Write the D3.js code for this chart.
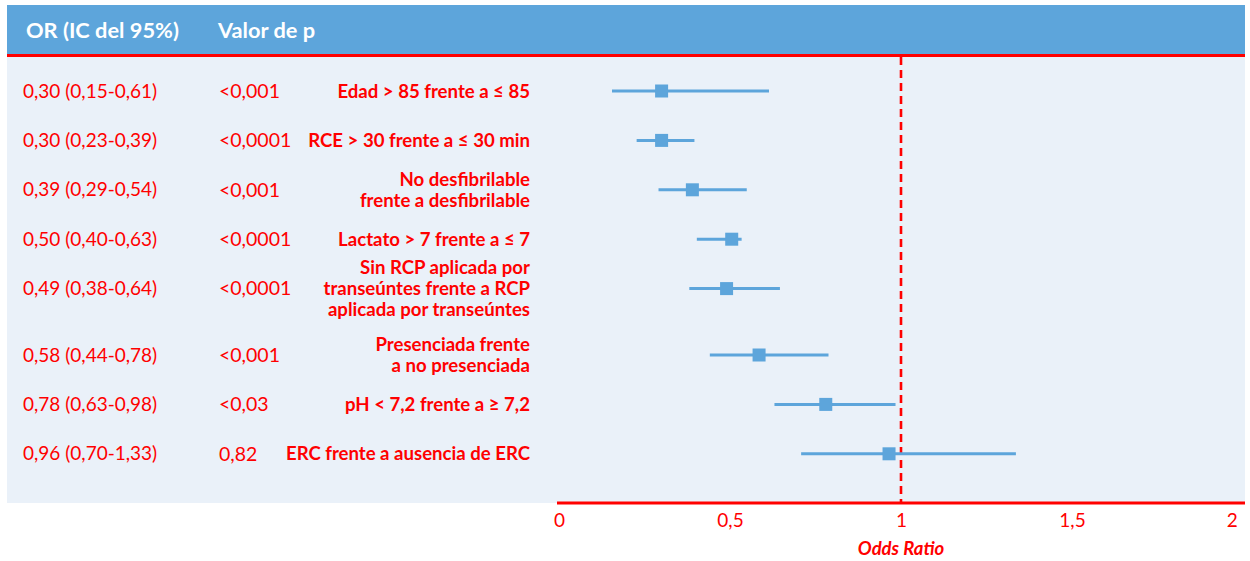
<!DOCTYPE html>
<html>
<head>
<meta charset="utf-8">
<script src="https://cdn.jsdelivr.net/npm/d3@7"></script>
<style>
  html, body { margin: 0; padding: 0; background: #ffffff; }
  svg { display: block; }
  text { font-family: Lato, "Noto Sans", sans-serif; }
</style>
</head>
<body>
<svg id="chart" width="1250" height="561"></svg>
<script>
// ---------------- DATA ----------------
const headerLabels = ["OR (IC del 95%)", "Valor de p"];
const orTexts = [
  "0,30 (0,15-0,61)", "0,30 (0,23-0,39)", "0,39 (0,29-0,54)", "0,50 (0,40-0,63)",
  "0,49 (0,38-0,64)", "0,58 (0,44-0,78)", "0,78 (0,63-0,98)", "0,96 (0,70-1,33)"
];
const pTexts = ["<0,001", "<0,0001", "<0,001", "<0,0001", "<0,0001", "<0,001", "<0,03", "0,82"];
const categories = [
  ["Edad > 85 frente a ≤ 85"],
  ["RCE > 30 frente a ≤ 30 min"],
  ["No desfibrilable", "frente a desfibrilable"],
  ["Lactato > 7 frente a ≤ 7"],
  ["Sin RCP aplicada por", "transeúntes frente a RCP", "aplicada por transeúntes"],
  ["Presenciada frente", "a no presenciada"],
  ["pH < 7,2 frente a ≥ 7,2"],
  ["ERC frente a ausencia de ERC"]
];
// values as drawn in the figure
const orValues = [0.30, 0.30, 0.39, 0.505, 0.49, 0.585, 0.78, 0.965];
const ciLow    = [0.155, 0.227, 0.291, 0.403, 0.381, 0.441, 0.63, 0.708];
const ciHigh   = [0.614, 0.396, 0.549, 0.534, 0.646, 0.788, 0.984, 1.336];
const xTicks = [0, 0.5, 1, 1.5, 2];
const refValue = 1;
const xTitle = "Odds Ratio";

// ---------------- STYLE / LAYOUT ----------------
const blue = "#5DA5DB", panel = "#EAF1F9", red = "#FF0000";
const left = 7, right = 1245;
const headerTop = 5, headerBottom = 55;
const panelTop = 57, panelBottom = 503;
const firstRowY = 91, rowStep = 49.4, tallExtra = 17;
const lineH = 21;

const svg = d3.select("#chart");

const x = d3.scaleLinear().domain([0, 2]).range([559, 1243]);

// row positions derived from label line counts
const rowY = [];
categories.forEach((c, i) => {
  if (i === 0) rowY.push(firstRowY);
  else rowY.push(rowY[i - 1] + rowStep + (categories[i - 1].length >= 3 ? tallExtra : 0));
});
const y = d3.scaleOrdinal().domain(d3.range(categories.length)).range(rowY);

// panel
svg.append("rect").attr("x", left).attr("y", panelTop)
  .attr("width", right - left).attr("height", panelBottom - panelTop).attr("fill", panel);

// header
svg.append("rect").attr("x", left).attr("y", headerTop)
  .attr("width", right - left).attr("height", headerBottom - headerTop).attr("fill", blue);
svg.append("line").attr("x1", left).attr("x2", right)
  .attr("y1", headerBottom + 0.5).attr("y2", headerBottom + 0.5)
  .attr("stroke", red).attr("stroke-width", 3);

const headerX = [26, 218];
svg.selectAll("text.hdr").data(headerLabels).join("text")
  .attr("class", "hdr")
  .attr("x", (d, i) => headerX[i]).attr("y", 30).attr("dy", "0.35em")
  .attr("fill", "#ffffff").attr("font-weight", 700).attr("font-size", 21.8)
  .text(d => d);

// reference line
svg.append("line").attr("x1", x(refValue)).attr("x2", x(refValue))
  .attr("y1", panelTop).attr("y2", panelBottom)
  .attr("stroke", red).attr("stroke-width", 2.6).attr("stroke-dasharray", "8,5");

// rows
const idx = d3.range(categories.length);
svg.selectAll("text.or").data(idx).join("text")
  .attr("class", "or").attr("x", 23).attr("y", i => y(i)).attr("dy", "0.35em")
  .attr("fill", red).attr("font-size", 19).text(i => orTexts[i]);

svg.selectAll("text.pv").data(idx).join("text")
  .attr("class", "pv").attr("x", 219).attr("y", i => y(i)).attr("dy", "0.35em")
  .attr("fill", red).attr("font-size", 19.5).text(i => pTexts[i]);

const lab = svg.selectAll("text.lab").data(idx).join("text")
  .attr("class", "lab").attr("text-anchor", "end")
  .attr("fill", red).attr("font-size", 18.6).attr("font-weight", 700);
lab.each(function(i) {
  const lines = categories[i];
  const t = d3.select(this);
  lines.forEach((ln, k) => {
    t.append("tspan").attr("x", 530)
      .attr("y", y(i) + (k - (lines.length - 1) / 2) * lineH)
      .attr("dy", "0.35em").text(ln);
  });
});

// CI lines
svg.selectAll("line.ci").data(idx).join("line")
  .attr("class", "ci")
  .attr("x1", i => x(ciLow[i])).attr("x2", i => x(ciHigh[i]))
  .attr("y1", i => y(i)).attr("y2", i => y(i))
  .attr("stroke", blue).attr("stroke-width", 3);

// markers
const sq = 13;
svg.selectAll("rect.pt").data(idx).join("rect")
  .attr("class", "pt")
  .attr("x", i => x(orValues[i]) - sq / 2).attr("y", i => y(i) - sq / 2)
  .attr("width", sq).attr("height", sq).attr("fill", blue);

// axis
const axisG = svg.append("g").attr("transform", `translate(0,${panelBottom})`)
  .call(d3.axisBottom(x).tickValues(xTicks).tickSize(0).tickPadding(11)
    .tickFormat(d => String(d).replace(".", ",")));
axisG.select(".domain").remove();
axisG.selectAll(".tick text")
  .attr("fill", red).attr("font-size", 19)
  .style("font-family", "Lato, 'Noto Sans', sans-serif")
  .attr("text-anchor", d => d === xTicks[xTicks.length - 1] ? "end" : "middle")
  .attr("dx", d => d === xTicks[xTicks.length - 1] ? "-0.3em" : 0);
svg.append("line").attr("x1", x(0) - 2).attr("x2", right)
  .attr("y1", panelBottom).attr("y2", panelBottom)
  .attr("stroke", red).attr("stroke-width", 3);

svg.append("text").attr("x", x(refValue)).attr("y", 549).attr("dy", "0.35em")
  .attr("text-anchor", "middle").attr("fill", red)
  .attr("font-size", 18.5).attr("font-weight", 700).attr("font-style", "italic")
  .text(xTitle);
</script>
</body>
</html>
